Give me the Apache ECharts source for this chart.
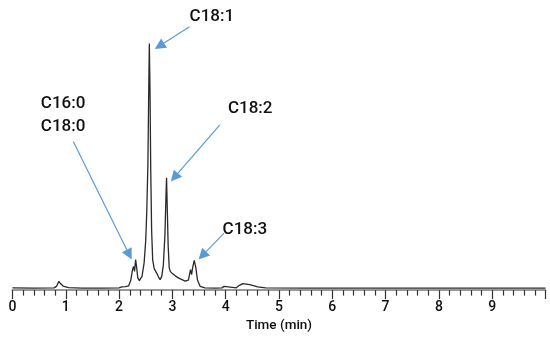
<!DOCTYPE html>
<html>
<head>
<meta charset="utf-8">
<script src="https://cdn.jsdelivr.net/npm/echarts@6/dist/echarts.min.js"></script>
<style>
html,body{margin:0;padding:0;background:#fff;}
#c{width:550px;height:338px;}
</style>
</head>
<body>
<div id="c"></div>
<script>
// Retention time (min)
var times = [0, 0.4, 0.78, 0.83, 0.87, 0.9, 0.95, 1.05, 1.3, 1.7, 2.0, 2.05, 2.12, 2.18, 2.22, 2.25, 2.27, 2.29, 2.31, 2.33, 2.35, 2.38, 2.43, 2.47, 2.50, 2.52, 2.54, 2.555, 2.567, 2.58, 2.593, 2.61, 2.63, 2.66, 2.70, 2.74, 2.77, 2.80, 2.83, 2.86, 2.88, 2.89, 2.90, 2.92, 2.94, 2.96, 3.00, 3.06, 3.12, 3.18, 3.24, 3.30, 3.34, 3.36, 3.38, 3.41, 3.44, 3.47, 3.52, 3.61, 3.8, 3.93, 3.97, 4.0, 4.2, 4.25, 4.32, 4.45, 4.6, 4.75, 5.5, 6.5, 7.5, 8.5, 9.5, 10];
// Detector signal (relative units)
var signal = [0.9, 0.8, 0.9, 1.6, 3.5, 2.6, 1.6, 1.0, 0.8, 0.8, 0.9, 1.3, 1.4, 1.7, 4.0, 8.0, 9.5, 7.5, 12.2, 9.0, 5.0, 3.8, 5.5, 11, 20, 32, 50, 78, 98.6, 80, 49, 24, 12, 8.5, 7.0, 5.2, 4.2, 5.5, 10, 22, 38, 44.9, 36, 18, 9, 7.5, 6.6, 5.6, 4.8, 4.2, 3.6, 4.0, 8.2, 6.2, 9.0, 11.9, 9.0, 4.0, 1.5, 0.9, 0.8, 0.9, 1.5, 1.0, 0.9, 1.8, 2.6, 2.2, 1.3, 0.9, 0.8, 0.8, 0.8, 0.8, 0.8, 0.8];
// Tick labels on the time axis
var tickLabels = ['0', '1', '2', '3', '4', '5', '6', '7', '8', '9'];
// Peak annotations: text lines, text anchor [t, v], arrow tail [t, v], arrow tip [t, v]
var annLabels = [['C18:1'], ['C16:0', 'C18:0'], ['C18:2'], ['C18:3']];
var annText = [[3.74, 109.3], [0.95, 70.1], [4.46, 72.7], [4.36, 24.2]];
var annTail = [[3.32, 105.3], [1.14, 59.4], [3.89, 66.1], [3.97, 22.8]];
var annTip = [[2.67, 96.4], [2.236, 12.2], [2.97, 43.4], [3.49, 12.2]];

var data = times.map(function (t, i) { return [t, signal[i]]; });

var chart = echarts.init(document.getElementById('c'), null, {renderer: 'canvas'});
var option = {
  animation: false,
  backgroundColor: '#fff',
  grid: {left: 12.5, right: 4.5, top: 40, bottom: 47.5, containLabel: false},
  xAxis: {
    type: 'value', min: 0, max: 10, interval: 1,
    name: 'Time (min)', nameLocation: 'middle', nameGap: 26,
    nameTextStyle: {fontFamily: 'Roboto', fontSize: 13.5, fontWeight: 500, color: '#111'},
    axisLine: {show: true, onZero: false, lineStyle: {color: '#999', width: 2}},
    axisTick: {show: true, length: 9, lineStyle: {color: '#333', width: 1.2}},
    minorTick: {show: true, splitNumber: 5, length: 5.5, lineStyle: {color: '#333', width: 1.2}},
    splitLine: {show: false},
    axisLabel: {
      margin: 10, fontFamily: 'Roboto', fontSize: 14, fontWeight: 500, color: '#111',
      formatter: function (v) { var i = Math.round(v); return (i >= 0 && i < tickLabels.length) ? tickLabels[i] : ''; }
    }
  },
  yAxis: {type: 'value', min: 0, max: 100, show: false},
  series: [{
    type: 'line', data: data, showSymbol: false, symbol: 'none', clip: false,
    lineStyle: {color: '#2a2a2a', width: 1.3}
  }]
};
chart.setOption(option);

var g = [];
var blue = '#5B9BD5';
for (var k = 0; k < annLabels.length; k++) {
  var tp = chart.convertToPixel({gridIndex: 0}, annText[k]);
  var a = chart.convertToPixel({gridIndex: 0}, annTail[k]);
  var b = chart.convertToPixel({gridIndex: 0}, annTip[k]);
  var dx = b[0] - a[0], dy = b[1] - a[1];
  var len = Math.sqrt(dx * dx + dy * dy);
  var ux = dx / len, uy = dy / len;
  var hl = 11, hw = 5.5;
  var base = [b[0] - ux * hl, b[1] - uy * hl];
  g.push({type: 'line', shape: {x1: a[0], y1: a[1], x2: base[0], y2: base[1]}, style: {stroke: blue, lineWidth: 1.2}});
  g.push({type: 'polygon', shape: {points: [b, [base[0] - uy * hw, base[1] + ux * hw], [base[0] + uy * hw, base[1] - ux * hw]]}, style: {fill: blue}});
  g.push({type: 'text', x: tp[0], y: tp[1], style: {text: annLabels[k].join('\n'), fontFamily: 'Roboto', fontSize: 17, fontWeight: 500, lineHeight: 23, fill: '#111', align: 'center', verticalAlign: 'middle'}});
}
chart.setOption({graphic: g});
</script>
</body>
</html>
